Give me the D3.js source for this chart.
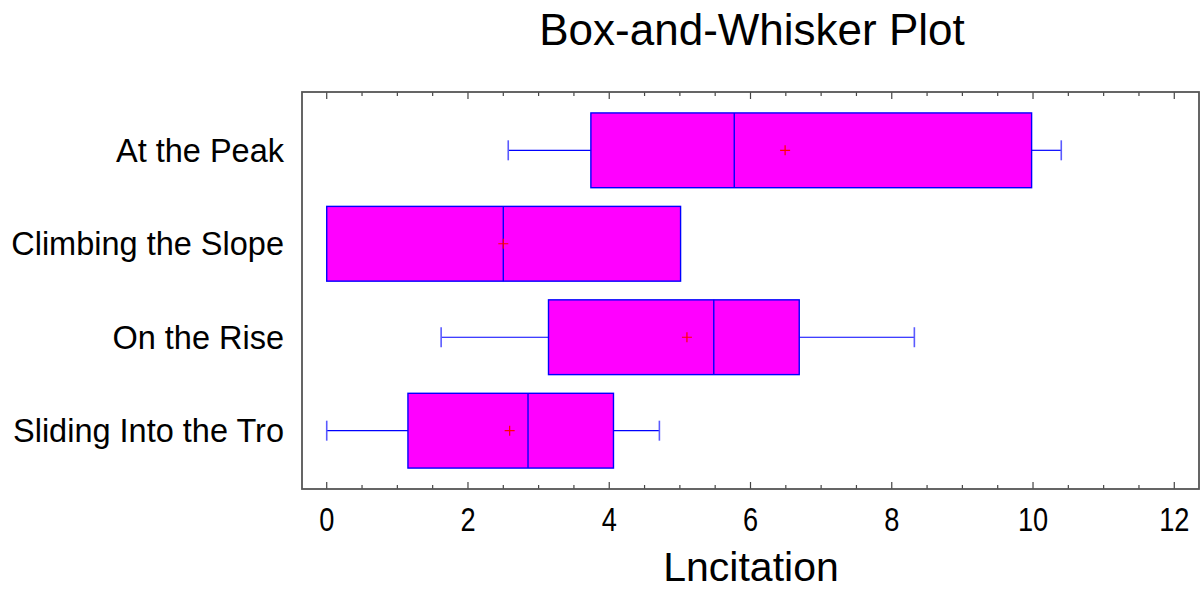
<!DOCTYPE html>
<html>
<head>
<meta charset="utf-8">
<script src="https://cdn.jsdelivr.net/npm/d3@7"></script>
<style>
  body { margin: 0; background: #fff; }
  svg { font-family: "Liberation Sans", Arial, sans-serif; }
</style>
</head>
<body>
<div id="chart"></div>
<script>
// data
const categories = ["At the Peak", "Climbing the Slope", "On the Rise", "Sliding Into the Tro"];
const mins    = [2.57, 0.00, 1.62, 0.00];
const q1s     = [3.74, 0.00, 3.14, 1.15];
const medians = [5.77, 2.50, 5.48, 2.85];
const q3s     = [9.98, 5.01, 6.69, 4.06];
const maxs    = [10.40, 5.01, 8.32, 4.71];
const means   = [6.49, 2.50, 5.10, 2.59];
const xTicks  = [0, 2, 4, 6, 8, 10, 12];

const width = 1203, height = 590;
const plot = { left: 302, right: 1199, top: 92, bottom: 489 };

const svg = d3.select("#chart").append("svg")
    .attr("width", width)
    .attr("height", height);

const x = d3.scaleLinear()
    .domain([-0.35, 12.35])
    .range([plot.left, plot.right]);

const y = d3.scaleBand()
    .domain(categories)
    .range([plot.top, plot.bottom])
    .paddingInner(0.2)
    .paddingOuter(0.224);

const rows = categories.map((c, i) => ({
    cat: c, min: mins[i], q1: q1s[i], med: medians[i], q3: q3s[i], max: maxs[i], mean: means[i]
}));

// title
svg.append("text")
    .attr("x", 752).attr("y", 45)
    .attr("text-anchor", "middle")
    .attr("font-size", 44)
    .attr("fill", "#000")
    .text("Box-and-Whisker Plot");

// minor + major ticks, top and bottom, pointing in
const minorTicks = d3.range(0, 12.01, 0.5);
const tickG = svg.append("g").attr("stroke", "#444").attr("stroke-width", 1.2);
minorTicks.forEach(t => {
    const major = Math.abs(t % 2) < 1e-6;
    const len = major ? 7 : 4;
    tickG.append("line")
        .attr("x1", x(t)).attr("x2", x(t))
        .attr("y1", plot.top).attr("y2", plot.top + len);
    tickG.append("line")
        .attr("x1", x(t)).attr("x2", x(t))
        .attr("y1", plot.bottom).attr("y2", plot.bottom - len);
});

// tick labels (narrow face)
svg.append("g").selectAll("text")
    .data(xTicks)
    .join("text")
    .attr("transform", d => `translate(${x(d)},531) scale(0.8,1)`)
    .attr("text-anchor", "middle")
    .attr("font-size", 34)
    .attr("fill", "#000")
    .text(d => d);

// axis title
svg.append("text")
    .attr("x", 751).attr("y", 581)
    .attr("text-anchor", "middle")
    .attr("font-size", 41)
    .attr("fill", "#000")
    .text("Lncitation");

// category labels
svg.append("g").selectAll("text")
    .data(categories)
    .join("text")
    .attr("x", 284)
    .attr("y", d => y(d) + y.bandwidth() / 2)
    .attr("dy", "0.35em")
    .attr("text-anchor", "end")
    .attr("font-size", 32.5)
    .attr("fill", "#000")
    .text(d => d);

// boxes
const box = svg.append("g").selectAll("g")
    .data(rows)
    .join("g");

const cy = d => y(d.cat) + y.bandwidth() / 2;
const blue = "#0000ff";

// whiskers
box.filter(d => d.min < d.q1).append("line")
    .attr("x1", d => x(d.min)).attr("x2", d => x(d.q1))
    .attr("y1", cy).attr("y2", cy)
    .attr("stroke", blue).attr("stroke-width", 1.2);
box.filter(d => d.min < d.q1).append("line")
    .attr("x1", d => x(d.min)).attr("x2", d => x(d.min))
    .attr("y1", d => cy(d) - 10).attr("y2", d => cy(d) + 10)
    .attr("stroke", "#5a5aff").attr("stroke-width", 1.6);
box.filter(d => d.max > d.q3).append("line")
    .attr("x1", d => x(d.q3)).attr("x2", d => x(d.max))
    .attr("y1", cy).attr("y2", cy)
    .attr("stroke", blue).attr("stroke-width", 1.2);
box.filter(d => d.max > d.q3).append("line")
    .attr("x1", d => x(d.max)).attr("x2", d => x(d.max))
    .attr("y1", d => cy(d) - 10).attr("y2", d => cy(d) + 10)
    .attr("stroke", "#5a5aff").attr("stroke-width", 1.6);

box.append("rect")
    .attr("x", d => x(d.q1))
    .attr("y", d => y(d.cat))
    .attr("width", d => x(d.q3) - x(d.q1))
    .attr("height", y.bandwidth())
    .attr("fill", "#ff00ff")
    .attr("stroke", blue)
    .attr("stroke-width", 1.4);

box.append("line")
    .attr("x1", d => x(d.med)).attr("x2", d => x(d.med))
    .attr("y1", d => y(d.cat)).attr("y2", d => y(d.cat) + y.bandwidth())
    .attr("stroke", blue).attr("stroke-width", 1.4);

// mean markers
box.append("path")
    .attr("d", d => {
        const mx = x(d.mean), my = cy(d);
        return `M${mx - 5},${my}H${mx + 5}M${mx},${my - 5}V${my + 5}`;
    })
    .attr("stroke", "#ff0000").attr("stroke-width", 1.2)
    .attr("fill", "none");

// frame
svg.append("rect")
    .attr("x", plot.left).attr("y", plot.top)
    .attr("width", plot.right - plot.left)
    .attr("height", plot.bottom - plot.top)
    .attr("fill", "none")
    .attr("stroke", "#555")
    .attr("stroke-width", 1.8);
</script>
</body>
</html>
